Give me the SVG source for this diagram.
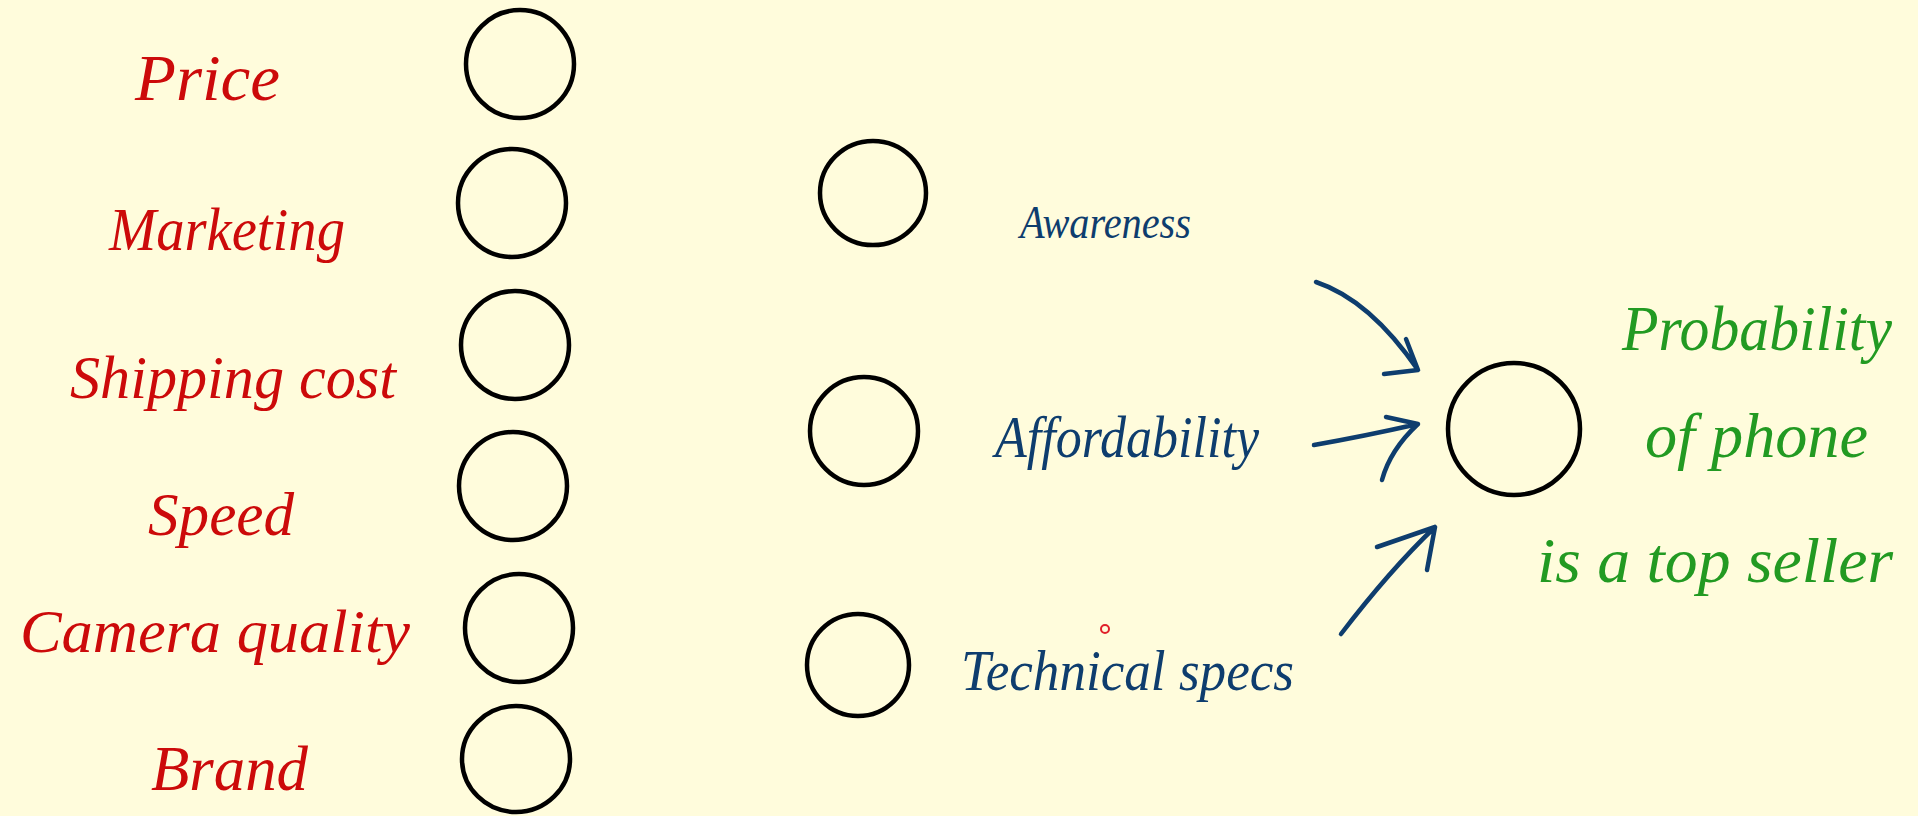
<svg xmlns="http://www.w3.org/2000/svg" width="1918" height="816" viewBox="0 0 1918 816">
<style>
.bg{fill:#fffcdc}
.node{fill:none;stroke:#000;stroke-width:4.5}
.red{fill:#cc0a0a;font-family:"Liberation Serif",serif;font-style:italic}
.blue{fill:#0e3d6e;font-family:"Liberation Serif",serif;font-style:italic}
.green{fill:#229a22;font-family:"Liberation Serif",serif;font-style:italic}
.arrow{fill:none;stroke:#0e3d6e;stroke-width:4.5;stroke-linecap:round;stroke-linejoin:round}
</style>
<rect class="bg" x="0" y="0" width="1918" height="816"/>
<g id="input-price"><ellipse class="node" cx="520" cy="64" rx="54" ry="54"/><text class="red" x="135" y="100" font-size="66" textLength="145" lengthAdjust="spacingAndGlyphs">Price</text></g>
<g id="input-marketing"><ellipse class="node" cx="512" cy="203" rx="54" ry="54"/><text class="red" x="109" y="250" font-size="62" textLength="236" lengthAdjust="spacingAndGlyphs">Marketing</text></g>
<g id="input-shipping"><ellipse class="node" cx="515" cy="345" rx="54" ry="54"/><text class="red" x="70" y="398" font-size="62" textLength="326" lengthAdjust="spacingAndGlyphs">Shipping cost</text></g>
<g id="input-speed"><ellipse class="node" cx="513" cy="486" rx="54" ry="54"/><text class="red" x="148" y="535" font-size="62" textLength="146" lengthAdjust="spacingAndGlyphs">Speed</text></g>
<g id="input-camera"><ellipse class="node" cx="519" cy="628" rx="54" ry="54"/><text class="red" x="20" y="652" font-size="62" textLength="390" lengthAdjust="spacingAndGlyphs">Camera quality</text></g>
<g id="input-brand"><ellipse class="node" cx="516" cy="759" rx="54" ry="53"/><text class="red" x="151" y="790" font-size="64" textLength="157" lengthAdjust="spacingAndGlyphs">Brand</text></g>
<g id="hidden-awareness"><ellipse class="node" cx="873" cy="193" rx="53" ry="52"/><text class="blue" x="1020" y="238" font-size="46" textLength="171" lengthAdjust="spacingAndGlyphs">Awareness</text></g>
<g id="hidden-affordability"><ellipse class="node" cx="864" cy="431" rx="54" ry="54"/><text class="blue" x="995" y="457" font-size="60" textLength="264" lengthAdjust="spacingAndGlyphs">Affordability</text></g>
<g id="hidden-technical"><ellipse class="node" cx="858" cy="665" rx="51" ry="51"/><text class="blue" x="961" y="690" font-size="56" textLength="333" lengthAdjust="spacingAndGlyphs">Technical specs</text></g>
<g id="output"><ellipse class="node" cx="1514" cy="429" rx="66" ry="66"/>
<text class="green" x="1622" y="350" font-size="64" textLength="270" lengthAdjust="spacingAndGlyphs">Probability</text>
<text class="green" x="1645" y="457" font-size="64" textLength="223" lengthAdjust="spacingAndGlyphs">of phone</text>
<text class="green" x="1537" y="582" font-size="64" textLength="356" lengthAdjust="spacingAndGlyphs">is a top seller</text>
</g>
<g id="connectors">
<path class="arrow" d="M1316 282 Q1370 300 1418 370 M1406 339 L1418 370 L1384 374"/>
<path class="arrow" d="M1314 445 Q1365 436 1418 424 M1386 417 L1418 424 Q1390 450 1382 480"/>
<path class="arrow" d="M1341 634 Q1390 570 1435 527 M1377 547 L1435 527 L1427 570"/>
</g>
<circle cx="1105" cy="629" r="4" fill="none" stroke="#e0202a" stroke-width="2"/>
</svg>
